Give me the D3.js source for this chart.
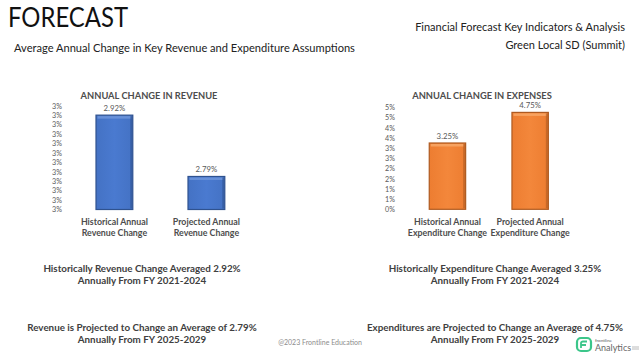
<!DOCTYPE html>
<html>
<head>
<meta charset="utf-8">
<script src="https://cdn.jsdelivr.net/npm/d3@7"></script>
<style>
  html, body { margin: 0; padding: 0; background: #ffffff; }
  svg { display: block; }
  text { font-family: Lato, "Open Sans", sans-serif; }
</style>
</head>
<body>
<svg id="chart" width="640" height="360"></svg>
<script>
// ---- data ----
const revCategories = ["Historical Annual\nRevenue Change", "Projected Annual\nRevenue Change"];
const revValues = [2.92, 2.79];
const revTicks = [2.72, 2.74, 2.76, 2.78, 2.80, 2.82, 2.84, 2.86, 2.88, 2.90, 2.92, 2.94];

const expCategories = ["Historical Annual\nExpenditure Change", "Projected Annual\nExpenditure Change"];
const expValues = [3.25, 4.75];
const expTicks = [0, 0.5, 1, 1.5, 2, 2.5, 3, 3.5, 4, 4.5, 5];

const revSummary = [
  ["Historically Revenue Change Averaged 2.92%", "Annually From FY 2021-2024"],
  ["Revenue is Projected to Change an Average of 2.79%", "Annually From FY 2025-2029"]
];
const expSummary = [
  ["Historically Expenditure Change Averaged 3.25%", "Annually From FY 2021-2024"],
  ["Expenditures are Projected to Change an Average of 4.75%", "Annually From FY 2025-2029"]
];

// ---- drawing ----
const svg = d3.select("#chart");
const defs = svg.append("defs");

function makeGrad(id, mid, light) {
  const g = defs.append("linearGradient").attr("id", id)
    .attr("x1", "0%").attr("x2", "100%").attr("y1", "0%").attr("y2", "0%");
  g.append("stop").attr("offset", "0%").attr("stop-color", mid);
  g.append("stop").attr("offset", "50%").attr("stop-color", light);
  g.append("stop").attr("offset", "100%").attr("stop-color", mid);
}
makeGrad("blueGrad", "#4472C4", "#4A7AD0");
makeGrad("orangeGrad", "#ED7D31", "#F3873B");

// Header
svg.append("text").attr("x", 8).attr("y", 27)
  .attr("font-size", 27).attr("fill", "#111")
  .attr("textLength", 120).attr("lengthAdjust", "spacingAndGlyphs").text("FORECAST");
svg.append("text").attr("x", 14).attr("y", 52)
  .attr("font-size", 11.1).attr("fill", "#222")
  .text("Average Annual Change in Key Revenue and Expenditure Assumptions");
svg.append("text").attr("x", 625).attr("y", 31).attr("text-anchor", "end")
  .attr("font-size", 11).attr("fill", "#222")
  .text("Financial Forecast Key Indicators & Analysis");
svg.append("text").attr("x", 625).attr("y", 49).attr("text-anchor", "end")
  .attr("font-size", 11).attr("fill", "#222")
  .text("Green Local SD (Summit)");

const fmtTick = v => d3.format(".0f")(v) + "%";
const fmtVal = v => d3.format(".2f")(v) + "%";

function drawPanel(cfg) {
  const g = svg.append("g");
  const x = d3.scaleBand().domain(cfg.categories).range(cfg.xRange)
    .paddingInner(cfg.pi).paddingOuter(cfg.po);
  const y = d3.scaleLinear().domain(cfg.domain).range(cfg.yRange);

  // title
  g.append("text").attr("x", cfg.titleX).attr("y", 98.8).attr("text-anchor", "middle")
    .attr("font-size", 9.3).attr("font-weight", "bold").attr("fill", "#4d4d4d")
    .text(cfg.title);

  // y axis (labels only)
  const axis = d3.axisLeft(y).tickValues(cfg.ticks).tickFormat(fmtTick).tickSize(0).tickPadding(0);
  const ag = g.append("g").attr("transform", `translate(${cfg.axisX},0)`).call(axis);
  ag.select(".domain").remove();
  ag.selectAll("text").attr("font-size", 7.2).attr("fill", "#595959")
    .attr("font-family", "Lato, 'Open Sans', sans-serif");

  const data = cfg.categories.map((c, i) => ({ c, v: cfg.values[i] }));
  const bars = g.selectAll(".bar").data(data).enter().append("g");
  bars.append("rect")
    .attr("x", d => x(d.c)).attr("width", x.bandwidth())
    .attr("y", d => y(d.v)).attr("height", d => y(cfg.domain[0]) - y(d.v))
    .attr("fill", cfg.grad).attr("stroke", cfg.stroke).attr("stroke-width", 1.2);
  // bevel highlights
  bars.append("rect")
    .attr("x", d => x(d.c) + 1.5).attr("width", x.bandwidth() - 3)
    .attr("y", d => y(d.v) + 1).attr("height", 2.5)
    .attr("fill", cfg.highlight).attr("opacity", 0.85);
  bars.append("rect")
    .attr("x", d => x(d.c) + x.bandwidth() - 2.5).attr("width", 2)
    .attr("y", d => y(d.v) + 1).attr("height", d => y(cfg.domain[0]) - y(d.v) - 2)
    .attr("fill", cfg.stroke).attr("opacity", 0.6);

  // value labels
  bars.append("text")
    .attr("x", d => x(d.c) + x.bandwidth() / 2).attr("y", d => y(d.v) - 4.2)
    .attr("text-anchor", "middle").attr("font-size", 7.8).attr("fill", "#595959")
    .text(d => fmtVal(d.v));

  // category labels
  const cl = g.selectAll(".cat").data(cfg.categories).enter().append("text")
    .attr("text-anchor", "middle").attr("font-size", 8.8).attr("font-weight", "bold")
    .attr("fill", "#4d4d4d");
  cl.each(function (c) {
    const lines = c.split("\n");
    const t = d3.select(this);
    lines.forEach((ln, i) => {
      t.append("tspan").attr("x", x(c) + x.bandwidth() / 2).attr("y", 225 + i * 11.2).text(ln);
    });
  });

  // summary texts
  cfg.summary.forEach((pair, k) => {
    pair.forEach((ln, i) => {
      g.append("text").attr("x", cfg.summaryX).attr("y", cfg.summaryY[k] + i * 12)
        .attr("text-anchor", "middle").attr("font-size", 9.8).attr("font-weight", "bold")
        .attr("fill", "#404040").text(ln);
    });
  });
}

drawPanel({
  title: "ANNUAL CHANGE IN REVENUE", titleX: 149,
  categories: revCategories, values: revValues, ticks: revTicks,
  domain: [2.72, 2.94], yRange: [209.5, 105.7],
  xRange: [68.4, 252.4], pi: 0.6, po: 0.3, axisX: 62,
  grad: "url(#blueGrad)", stroke: "#2F528F", highlight: "#6F95DA",
  summary: revSummary, summaryX: 142, summaryY: [271.5, 330.5]
});
drawPanel({
  title: "ANNUAL CHANGE IN EXPENSES", titleX: 482,
  categories: expCategories, values: expValues, ticks: expTicks,
  domain: [0, 5], yRange: [209.3, 107.3],
  xRange: [406.1, 571.5], pi: 0.56, po: 0.28, axisX: 395,
  grad: "url(#orangeGrad)", stroke: "#AE5A21", highlight: "#F8A868",
  summary: expSummary, summaryX: 495, summaryY: [271.5, 330.5]
});

// footer
svg.append("text").attr("x", 320).attr("y", 345).attr("text-anchor", "middle")
  .attr("font-size", 7).attr("fill", "#8c8c8c").text("@2023 Frontline Education");

// logo
const logo = svg.append("g").attr("transform", "translate(577,338)");
logo.append("rect").attr("x", 0).attr("y", 0).attr("width", 14).attr("height", 13).attr("rx", 4)
  .attr("fill", "none").attr("stroke", "#3cc68a").attr("stroke-width", 2.2);
logo.append("path").attr("d", "M4,10 L4,5 Q4,3.5 6,3.5 L10,3.5 M4,7 L9,7")
  .attr("fill", "none").attr("stroke", "#3cc68a").attr("stroke-width", 1.8);
logo.append("text").attr("x", 18).attr("y", 4).attr("font-size", 4.5).attr("fill", "#555").text("frontline");
logo.append("text").attr("x", 18).attr("y", 13).attr("font-size", 9).attr("fill", "#666").text("Analytics");
logo.append("line").attr("x1", 55).attr("x2", 62).attr("y1", 9).attr("y2", 9).attr("stroke", "#bbb").attr("stroke-width", 1);
logo.append("line").attr("x1", 55).attr("x2", 62).attr("y1", 11).attr("y2", 11).attr("stroke", "#bbb").attr("stroke-width", 1);
</script>
</body>
</html>
